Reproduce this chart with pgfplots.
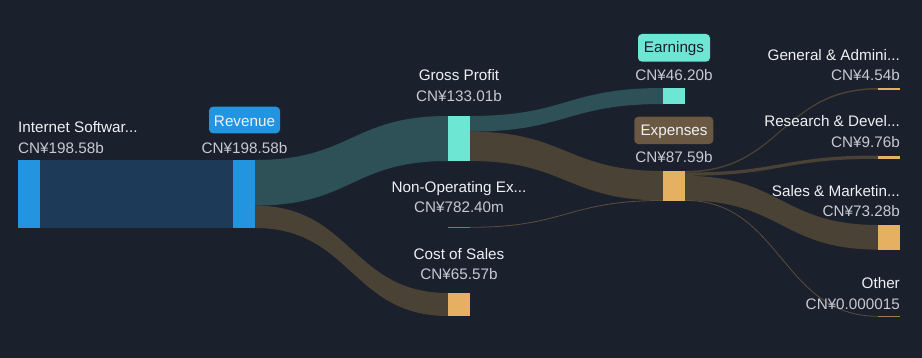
\documentclass[border=0pt]{standalone}
\usepackage{pgfplots}
\pgfplotsset{compat=1.18}
\usepackage{fontspec}
\setmainfont{Liberation Sans}
\definecolor{bg}{HTML}{1B202D}
\definecolor{revblue}{HTML}{2394DF}
\definecolor{srcflow}{HTML}{1D3B58}
\definecolor{tealflow}{HTML}{2E5157}
\definecolor{tealnode}{HTML}{6EE6D4}
\definecolor{brownflow}{HTML}{4A4234}
\definecolor{thinflow}{HTML}{5A4E3C}
\definecolor{orangenode}{HTML}{E6B062}
\definecolor{expbox}{HTML}{6B5843}
\definecolor{lab}{HTML}{EEF1F4}
\definecolor{val}{HTML}{C6CAD1}
\tikzset{t/.style={font=\fontsize{15.3}{17}\selectfont, inner sep=0}}
\newcommand{\flow}[8]{% x0 a0 b0 x1 a1 b1 xm color
  \fill[#8] (axis cs:#1,#2) .. controls (axis cs:#7,#2) and (axis cs:#7,#5) .. (axis cs:#4,#5)
   -- (axis cs:#4,#6) .. controls (axis cs:#7,#6) and (axis cs:#7,#3) .. (axis cs:#1,#3) -- cycle;}
\newcommand{\thin}[6]{% x0 y0 x1 y1 xm width
  \draw[thinflow, line width=#6] (axis cs:#1,#2) .. controls (axis cs:#5,#2) and (axis cs:#5,#4) .. (axis cs:#3,#4);}
\begin{document}
\begin{tikzpicture}
\begin{axis}[
  width=922bp, height=358bp, scale only axis,
  xmin=0, xmax=922, ymin=0, ymax=358, y dir=reverse,
  hide axis, clip=false
]
\fill[bg] (axis cs:0,0) rectangle (axis cs:922,358);
% flows
\addplot[fill=srcflow, draw=none] coordinates {(40,160) (233,160) (233,228) (40,228)};
\flow{255}{160}{205.6}{448}{116}{161}{351.5}{tealflow}
\flow{255}{205.6}{228}{448}{293}{316}{351.5}{brownflow}
\flow{470}{116}{131.6}{663}{88}{104}{566.5}{tealflow}
\flow{470}{131.6}{161}{663}{171}{200.4}{566.5}{brownflow}
\thin{470}{227.3}{663}{200.5}{566.5}{0.8bp}
\flow{685}{171}{172.5}{878}{88}{89.5}{781.5}{brownflow}
\flow{685}{172.5}{175.8}{878}{155.5}{158.8}{781.5}{brownflow}
\flow{685}{175.8}{200.4}{878}{225}{249.6}{781.5}{brownflow}
\thin{685}{200.4}{878}{316.3}{781.5}{0.8bp}
% nodes
\addplot[fill=revblue, draw=none] coordinates {(18,160) (40,160) (40,228) (18,228)};
\addplot[fill=revblue, draw=none] coordinates {(233,160) (255,160) (255,228) (233,228)};
\addplot[fill=tealnode, draw=none] coordinates {(448,116) (470,116) (470,161) (448,161)};
\addplot[fill=orangenode, draw=none] coordinates {(448,293) (470,293) (470,316) (448,316)};
\addplot[fill=thinflow!60!orangenode, draw=none] coordinates {(448,226.5) (470,226.5) (470,228.2) (448,228.2)};
\addplot[fill=tealnode, draw=none] coordinates {(663,88) (685,88) (685,104) (663,104)};
\addplot[fill=orangenode, draw=none] coordinates {(663,171) (685,171) (685,200.6) (663,200.6)};
\addplot[fill=orangenode, draw=none] coordinates {(878,88) (900,88) (900,89.6) (878,89.6)};
\addplot[fill=orangenode, draw=none] coordinates {(878,155.5) (900,155.5) (900,158.8) (878,158.8)};
\addplot[fill=orangenode, draw=none] coordinates {(878,225) (900,225) (900,249.6) (878,249.6)};
\addplot[fill=thinflow!50!orangenode, draw=none] coordinates {(878,315.6) (900,315.6) (900,317) (878,317)};
% label boxes
\fill[revblue, rounded corners=4bp] (axis cs:209,106.7) rectangle (axis cs:280,133.3);
\fill[tealnode, rounded corners=4bp] (axis cs:638,34) rectangle (axis cs:710,61.7);
\fill[expbox, rounded corners=4bp] (axis cs:634.3,116.7) rectangle (axis cs:713.3,144);
% labels
\node[t, anchor=base west, text=lab] at (axis cs:18,132.3) {Internet Softwar...};
\node[t, anchor=base west, text=val] at (axis cs:18,153.3) {CN¥198.58b};
\node[t, anchor=base, text=lab] at (axis cs:244.5,126) {Revenue};
\node[t, anchor=base, text=val] at (axis cs:244.5,153.3) {CN¥198.58b};
\node[t, anchor=base, text=lab] at (axis cs:459,80.7) {Gross Profit};
\node[t, anchor=base, text=val] at (axis cs:459,101) {CN¥133.01b};
\node[t, anchor=base, text=lab] at (axis cs:459,192) {Non-Operating Ex...};
\node[t, anchor=base, text=val] at (axis cs:459,212.7) {CN¥782.40m};
\node[t, anchor=base, text=lab] at (axis cs:459,259.3) {Cost of Sales};
\node[t, anchor=base, text=val] at (axis cs:459,279) {CN¥65.57b};
\node[t, anchor=base, text=bg] at (axis cs:674,52.7) {Earnings};
\node[t, anchor=base, text=val] at (axis cs:674,80) {CN¥46.20b};
\node[t, anchor=base, text=lab] at (axis cs:674,135) {Expenses};
\node[t, anchor=base, text=val] at (axis cs:674,162.3) {CN¥87.59b};
\node[t, anchor=base east, text=lab] at (axis cs:900,60) {General \& Admini...};
\node[t, anchor=base east, text=val] at (axis cs:900,80) {CN¥4.54b};
\node[t, anchor=base east, text=lab] at (axis cs:900,126.7) {Research \& Devel...};
\node[t, anchor=base east, text=val] at (axis cs:900,147.7) {CN¥9.76b};
\node[t, anchor=base east, text=lab] at (axis cs:900,196.7) {Sales \& Marketin...};
\node[t, anchor=base east, text=val] at (axis cs:900,216.7) {CN¥73.28b};
\node[t, anchor=base east, text=lab] at (axis cs:900,288.3) {Other};
\node[t, anchor=base east, text=val] at (axis cs:900,309) {CN¥0.000015};
\end{axis}
\end{tikzpicture}
\end{document}
